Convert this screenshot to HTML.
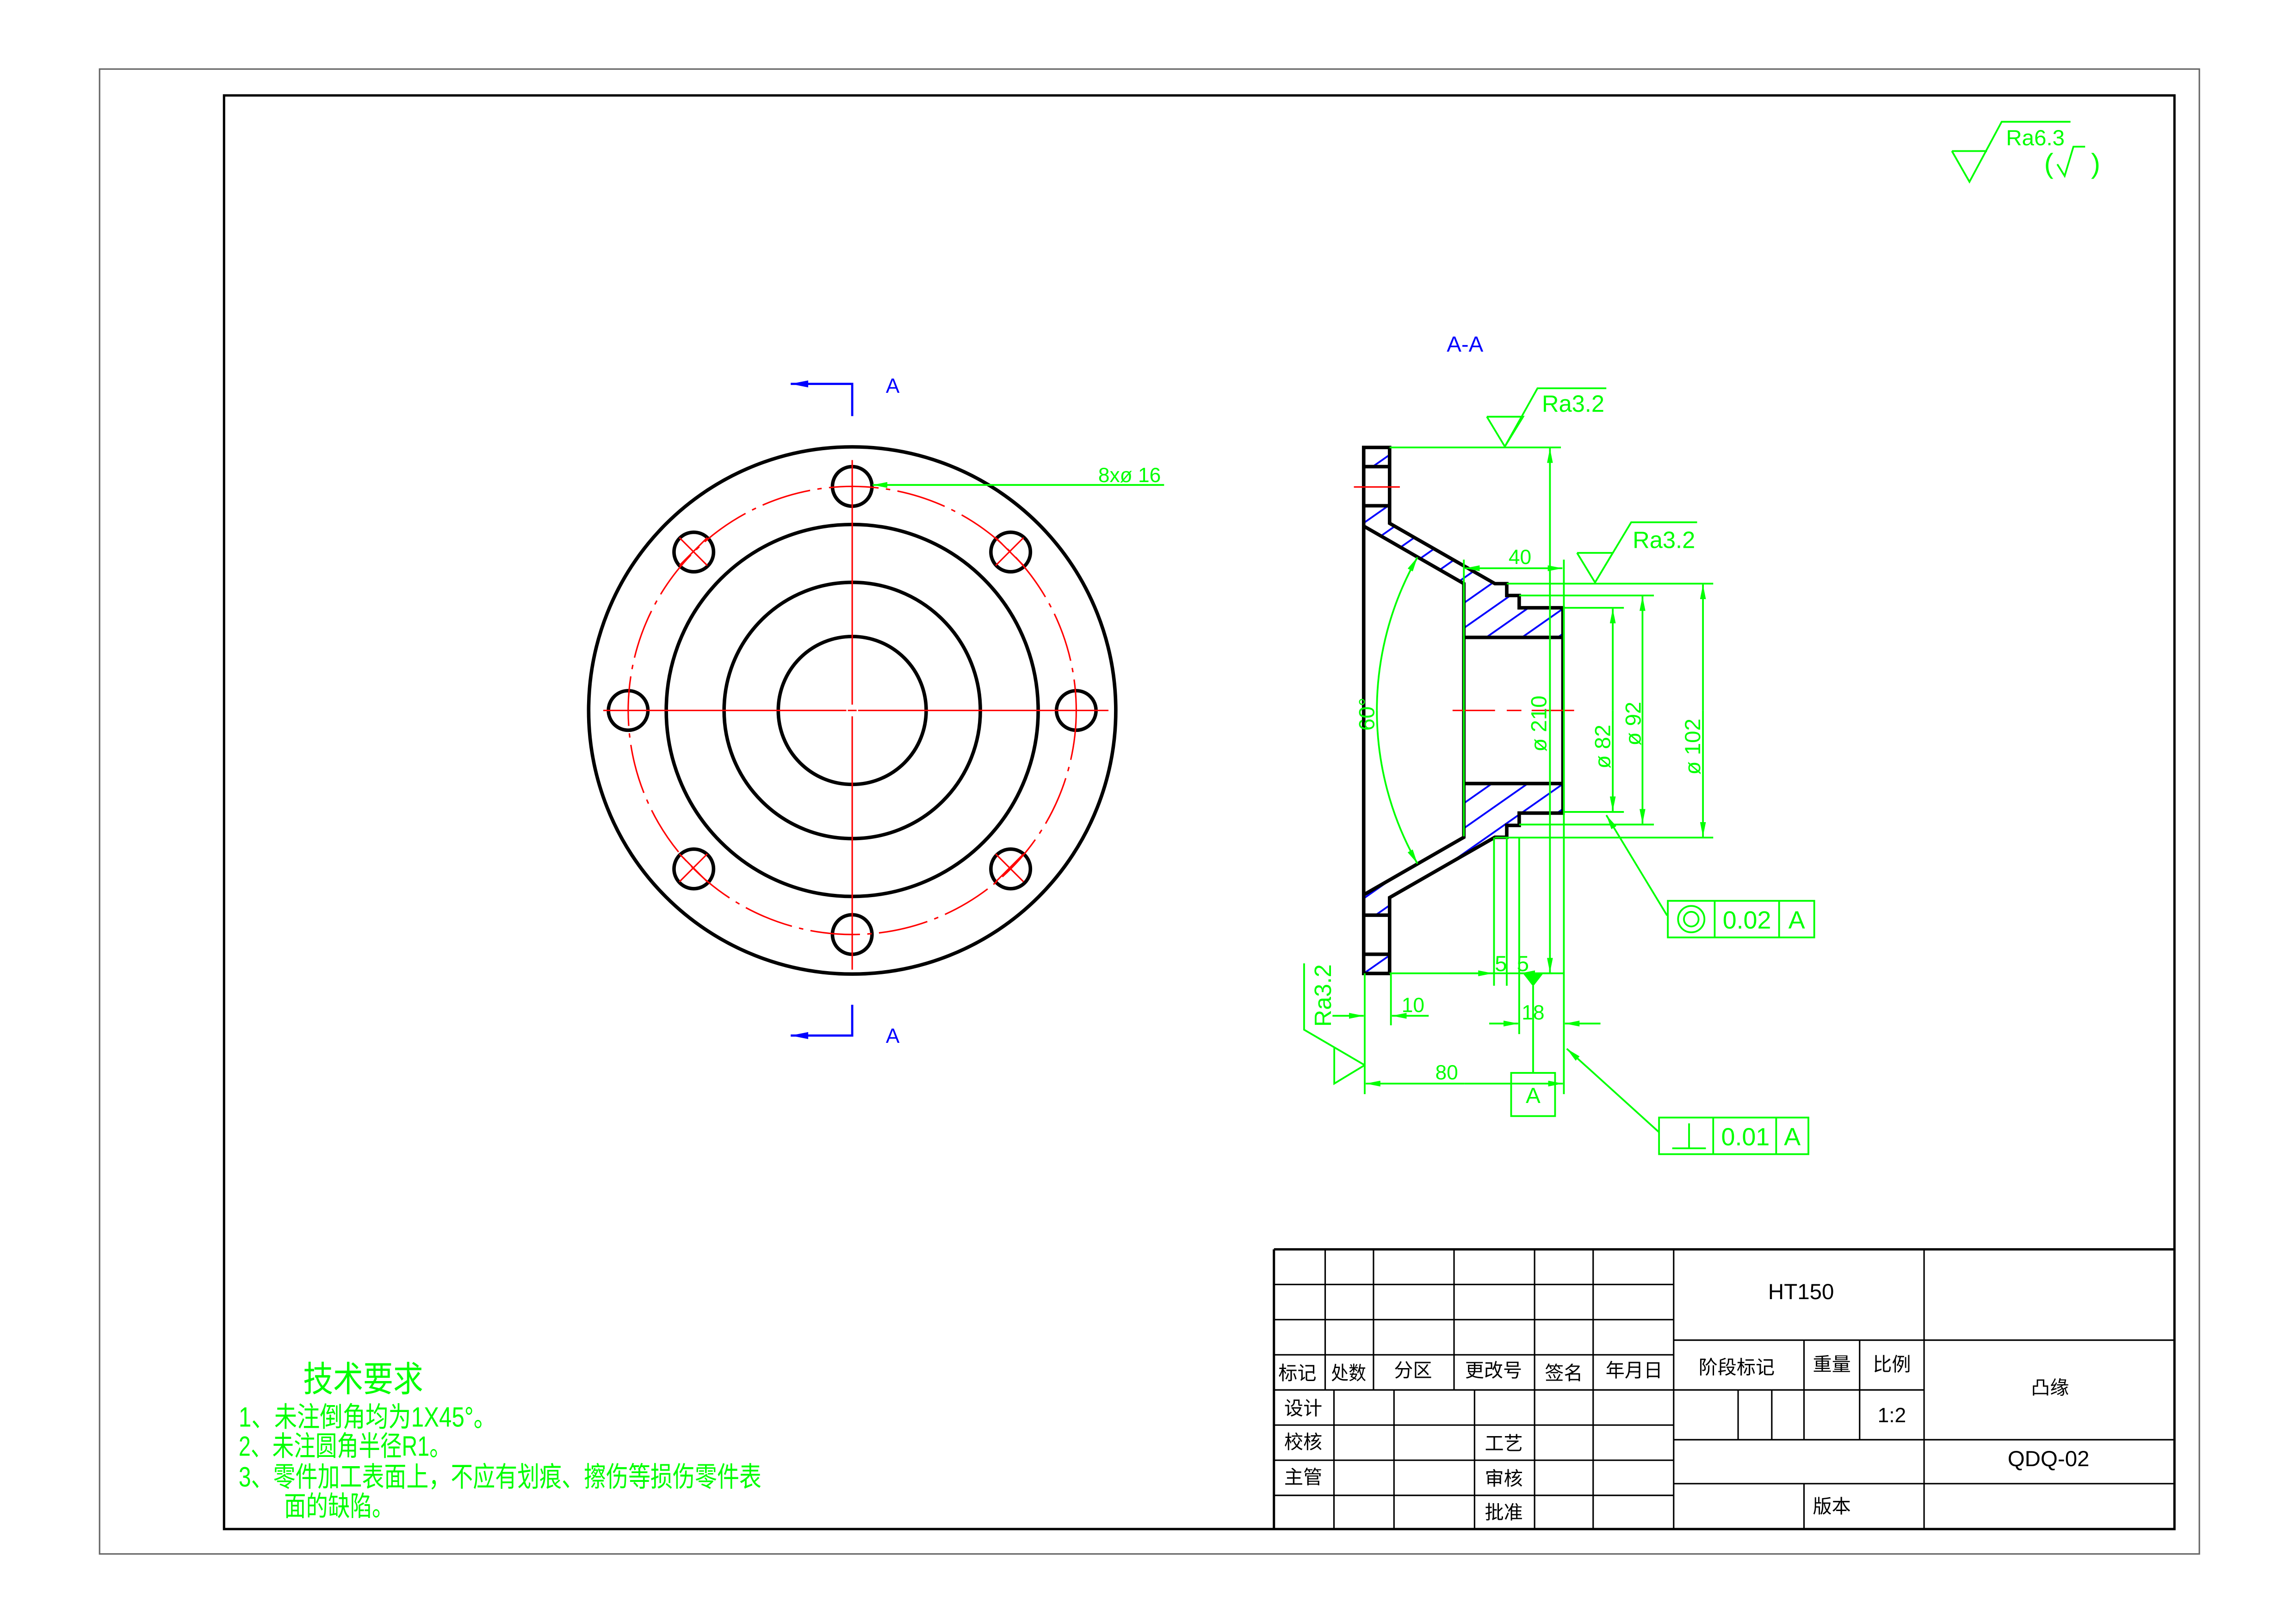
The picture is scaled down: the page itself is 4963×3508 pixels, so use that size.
<!DOCTYPE html>
<html><head><meta charset="utf-8"><style>
html,body{margin:0;padding:0;background:#fff;}
svg{display:block;}
text{font-family:"Liberation Sans Narrow","Liberation Sans","Noto Sans CJK SC",sans-serif;}
</style></head><body>
<svg width="4963" height="3508" viewBox="0 0 1568 1108" xmlns="http://www.w3.org/2000/svg">
<defs>
<marker id="ar" viewBox="0 0 10 4" refX="10" refY="2" markerWidth="10" markerHeight="4" markerUnits="userSpaceOnUse" orient="auto-start-reverse"><path d="M0,0 L10,2 L0,4 Z" fill="#00ff00"/></marker>
<marker id="arb" viewBox="0 0 10 4" refX="10" refY="2" markerWidth="12" markerHeight="5" markerUnits="userSpaceOnUse" orient="auto-start-reverse"><path d="M0,0 L10,2 L0,4 Z" fill="#0000ff"/></marker>
<pattern id="hat" width="14" height="14" patternUnits="userSpaceOnUse" patternTransform="rotate(-35)"><line x1="0" y1="0.6" x2="14" y2="0.6" stroke="#0000ff" stroke-width="1.2"/></pattern>
</defs>
<rect width="1568" height="1108" fill="#fff"/>
<rect x="68" y="47" width="1434" height="1014" fill="none" stroke="#666" stroke-width="1"/>
<rect x="153" y="65" width="1332" height="979" fill="none" stroke="#000" stroke-width="1.6"/>

<g stroke="#00ff00" stroke-width="1.2" fill="none">
<path d="M1333,103 H1357 M1333,103 L1345,124 L1367,83 H1414"/>
<path d="M1405,112 L1410,120 L1416,100 H1424"/>
</g>
<text x="1370" y="99" font-size="15" fill="#00ff00">Ra6.3</text>
<text x="1396" y="118" font-size="19" fill="#00ff00">(</text>
<text x="1428" y="118" font-size="19" fill="#00ff00">)</text>

<g fill="none" stroke="#000" stroke-width="2.4">
<circle cx="582" cy="485" r="180"/>
<circle cx="582" cy="485" r="127"/>
<circle cx="582" cy="485" r="87.5"/>
<circle cx="582" cy="485" r="50.5"/>
<circle cx="582" cy="332" r="13.5"/><circle cx="582" cy="638" r="13.5"/>
<circle cx="429" cy="485" r="13.5"/><circle cx="735" cy="485" r="13.5"/>
<circle cx="473.8" cy="376.8" r="13.5"/><circle cx="690.2" cy="376.8" r="13.5"/>
<circle cx="473.8" cy="593.2" r="13.5"/><circle cx="690.2" cy="593.2" r="13.5"/>
</g>
<g fill="none" stroke="#ff0000" stroke-width="1">
<circle cx="582" cy="485" r="153" stroke-dasharray="34,5,3,5"/>
<path d="M582,314 V481 M582,489 V662 M412,485 H578 M586,485 H757 M579,485 H585"/>
<path d="M464,367 l19,19 M483,367 l-19,19 M680,367 l19,19 M699,367 l-19,19 M464,583 l19,19 M483,583 l-19,19 M680,583 l19,19 M699,583 l-19,19"/>
</g>
<path d="M795,331 H596" stroke="#00ff00" stroke-width="1.2" marker-end="url(#ar)"/>
<text x="750" y="329" font-size="14" fill="#00ff00">8xø 16</text>
<g stroke="#0000ff" stroke-width="1.5" fill="none">
<path d="M582,284 V262 H540" marker-end="url(#arb)"/>
<path d="M582,686 V707 H540" marker-end="url(#arb)"/>
</g>
<text x="605" y="268" font-size="14" fill="#0000ff">A</text>
<text x="605" y="712" font-size="14" fill="#0000ff">A</text>
<text x="988" y="240" font-size="15" fill="#0000ff">A-A</text>

<g fill="url(#hat)">
<rect x="931.3" y="305.4" width="17.7" height="13.1"/>
<rect x="931.3" y="651.5" width="17.7" height="13.1"/>
<polygon points="931.3,345.2 949,345.2 949,357.2 1020.9,398.4 1029,398.4 1029,406.5 1037.5,406.5 1037.5,414.9 1067.4,414.9 1067.4,435.1 999.7,435.1 999.7,398.4 931.3,359.1"/>
<polygon points="931.3,624.8 949,624.8 949,612.8 1020.9,571.6 1029,571.6 1029,563.5 1037.5,563.5 1037.5,555.1 1067.4,555.1 1067.4,534.9 999.7,534.9 999.7,571.6 931.3,610.9"/>
</g>
<g fill="none" stroke="#000" stroke-width="2.4" stroke-linejoin="miter">
<path d="M931.3,305.4 H949 V357.2 L1020.9,398.4 H1029 V406.5 H1037.5 V414.9 H1067.4 V555.1 H1037.5 V563.5 H1029 V571.6 H1020.9 L949,612.8 V664.6 H931.3 Z"/>
<path d="M931.3,318.5 H949 M931.3,345.2 H949 M931.3,624.8 H949 M931.3,651.5 H949"/>
<path d="M931.3,359.1 L999.7,398.4 V571.6 L931.3,610.9"/>
<path d="M999.7,435.1 H1067.4 M999.7,534.9 H1067.4"/>
</g>
<g stroke="#ff0000" stroke-width="1" fill="none">
<path d="M924.6,332.4 H956 M992,485 H1021 M1029,485 H1039 M1046,485 H1075"/>
</g>

<g stroke="#00ff00" stroke-width="1.2" fill="none">
<path d="M949,305.4 H1066 M949,664.5 H1068"/>
<path d="M1058.5,485 V306" marker-end="url(#ar)"/>
<path d="M1058.5,485 V664" marker-end="url(#ar)"/>
<path d="M999.7,382 V571 M1068,382 V747"/>
<path d="M1034,387.9 H1000.5" marker-end="url(#ar)"/>
<path d="M1034,387.9 H1067" marker-end="url(#ar)"/>
<path d="M1029,398.4 H1170 M1037.5,406.5 H1129.5 M1067.4,414.9 H1109 M1067.4,554.3 H1109 M1037.5,562.9 H1129.5 M1020.9,571.8 H1170"/>
<path d="M1101.4,485 V415.5" marker-end="url(#ar)"/><path d="M1101.4,485 V553.7" marker-end="url(#ar)"/>
<path d="M1121.7,485 V407" marker-end="url(#ar)"/><path d="M1121.7,485 V562.3" marker-end="url(#ar)"/>
<path d="M1163,485 V399" marker-end="url(#ar)"/><path d="M1163,485 V571.2" marker-end="url(#ar)"/>
<path d="M940.3,485 A211.3,211.3 0 0 1 968,380.4" marker-end="url(#ar)"/>
<path d="M940.3,485 A211.3,211.3 0 0 0 968,589.6" marker-end="url(#ar)"/>
<path d="M1015.4,284.4 H1040.2 L1027.7,304.8 L1015.4,284.4 M1027.7,304.8 L1050,265 H1097"/>
<path d="M1077,377.4 H1101.4 L1089.3,397.6 L1077,377.4 M1089.3,397.6 L1114,356.5 H1159"/>
<path d="M1020.3,571.8 V673 M1029,571.8 V673 M1037.5,571.8 V706"/>
<path d="M990,664.5 H1019.5" marker-end="url(#ar)"/>
<path d="M1060,664.5 H1038.3" marker-end="url(#ar)"/>
<path d="M932,664.5 V747 M949.9,664.5 V700"/>
<path d="M910,693.5 H931.3" marker-end="url(#ar)"/>
<path d="M975.7,693.5 H950.6" marker-end="url(#ar)"/>
<path d="M1017,698.8 H1036.8" marker-end="url(#ar)"/>
<path d="M1093,698.8 H1068.7" marker-end="url(#ar)"/>
<path d="M1000,739.8 H932.7" marker-end="url(#ar)"/>
<path d="M1000,739.8 H1067.3" marker-end="url(#ar)"/>
<path d="M1047,673 V732.5"/>
<rect x="1032" y="732.5" width="30" height="29.5"/>
<path d="M890.6,657.7 V703 L932,727.2 M911.2,715.6 V739.8 L932,727.2"/>
<path d="M1138.5,625 L1097,556.5" marker-end="url(#ar)"/>
<rect x="1139" y="615" width="100" height="25"/>
<path d="M1171,615 V640 M1215,615 V640"/>
<circle cx="1155" cy="627.5" r="9"/><circle cx="1155" cy="627.5" r="5"/>
<path d="M1133,773 L1070,716" marker-end="url(#ar)"/>
<rect x="1133" y="763" width="102" height="25"/>
<path d="M1170,763 V788 M1213,763 V788 M1142,784 H1165 M1153.5,784 V767"/>
</g>
<path d="M1040,664.5 H1054 L1047,673.5 Z" fill="#00ff00"/>
<g fill="#00ff00" font-size="15">
<text x="1053" y="281" font-size="16">Ra3.2</text>
<text x="1115" y="374" font-size="16">Ra3.2</text>
<text x="1038" y="385" text-anchor="middle" font-size="14">40</text>
<text transform="translate(1056,494) rotate(-90)" text-anchor="middle" font-size="15">ø 210</text>
<text transform="translate(1099.6,509.7) rotate(-90)" text-anchor="middle" font-size="15">ø 82</text>
<text transform="translate(1120.4,494) rotate(-90)" text-anchor="middle" font-size="15">ø 92</text>
<text transform="translate(1161,509.7) rotate(-90)" text-anchor="middle" font-size="15">ø 102</text>
<text transform="translate(938.5,487.5) rotate(-90)" text-anchor="middle" font-size="15">60°</text>
<text x="1025" y="663" text-anchor="middle" font-size="15">5</text>
<text x="1040" y="663" text-anchor="middle" font-size="15">5</text>
<text x="965" y="691" text-anchor="middle" font-size="14">10</text>
<text x="1047" y="696" text-anchor="middle" font-size="14">18</text>
<text x="988" y="737" text-anchor="middle" font-size="14">80</text>
<text x="1047" y="753" text-anchor="middle" font-size="15">A</text>
<text transform="translate(909,701) rotate(-90)" font-size="16">Ra3.2</text>
<text x="1193" y="634" text-anchor="middle" font-size="17">0.02</text>
<text x="1227" y="634" text-anchor="middle" font-size="17">A</text>
<text x="1192" y="782" text-anchor="middle" font-size="17">0.01</text>
<text x="1224" y="782" text-anchor="middle" font-size="17">A</text>
</g>

<g fill="#00ff00" font-family="'Liberation Sans','Noto Sans CJK SC',sans-serif">
<text x="207" y="950" font-size="24" textLength="82" lengthAdjust="spacingAndGlyphs">技术要求</text>
<text x="163" y="974" font-size="19" textLength="176" lengthAdjust="spacingAndGlyphs">1、未注倒角均为1X45°。</text>
<text x="163" y="994" font-size="19" textLength="145" lengthAdjust="spacingAndGlyphs">2、未注圆角半径R1。</text>
<text x="163" y="1015" font-size="19" textLength="357" lengthAdjust="spacingAndGlyphs">3、零件加工表面上，不应有划痕、擦伤等损伤零件表</text>
<text x="194" y="1035" font-size="19" textLength="75" lengthAdjust="spacingAndGlyphs">面的缺陷。</text>
</g>

<g stroke="#000" fill="none">
<path stroke-width="1.6" d="M870,853 H1485 M870,853 V1044"/>
<g stroke-width="1">
<path d="M905,853 V949 M938,853 V949 M993,853 V949 M1048,853 V1044 M1088,853 V1044 M1143,853 V1044 M1314,853 V1044"/>
<path d="M911,949 V1044 M952,949 V1044 M1007,949 V1044"/>
<path d="M870,877 H1143 M870,901 H1143 M870,925 H1143 M870,949 H1143 M870,973 H1143 M870,997 H1143 M870,1021 H1143"/>
<path d="M1143,915 H1485 M1143,949 H1314 M1143,983 H1485 M1143,1013 H1485"/>
<path d="M1232,915 V983 M1270,915 V983 M1187,949 V983 M1210,949 V983 M1232,1013 V1044"/>
</g>
</g>
<g fill="#000" font-family="'Liberation Sans','Noto Sans CJK SC',sans-serif" font-size="13">
<text x="1230" y="887" text-anchor="middle" font-size="15" font-family="'Liberation Sans Narrow','Liberation Sans',sans-serif">HT150</text>
<text x="873" y="942" textLength="26" lengthAdjust="spacingAndGlyphs">标记</text>
<text x="909" y="942" textLength="24" lengthAdjust="spacingAndGlyphs">处数</text>
<text x="965" y="940" text-anchor="middle">分区</text>
<text x="1020" y="940" text-anchor="middle">更改号</text>
<text x="1068" y="942" text-anchor="middle">签名</text>
<text x="1116" y="940" text-anchor="middle">年月日</text>
<text x="1186" y="938" text-anchor="middle">阶段标记</text>
<text x="1251" y="936" text-anchor="middle">重量</text>
<text x="1292" y="936" text-anchor="middle">比例</text>
<text x="1400" y="952" text-anchor="middle">凸缘</text>
<text x="1292" y="971" text-anchor="middle" font-family="'Liberation Sans Narrow','Liberation Sans',sans-serif" font-size="14">1:2</text>
<text x="1399" y="1001" text-anchor="middle" font-family="'Liberation Sans Narrow','Liberation Sans',sans-serif" font-size="15">QDQ-02</text>
<text x="1251" y="1033" text-anchor="middle">版本</text>
<text x="890" y="966" text-anchor="middle">设计</text>
<text x="890" y="989" text-anchor="middle">校核</text>
<text x="890" y="1013" text-anchor="middle">主管</text>
<text x="1027" y="990" text-anchor="middle">工艺</text>
<text x="1027" y="1014" text-anchor="middle">审核</text>
<text x="1027" y="1037" text-anchor="middle">批准</text>
</g>
</svg>
</body></html>
